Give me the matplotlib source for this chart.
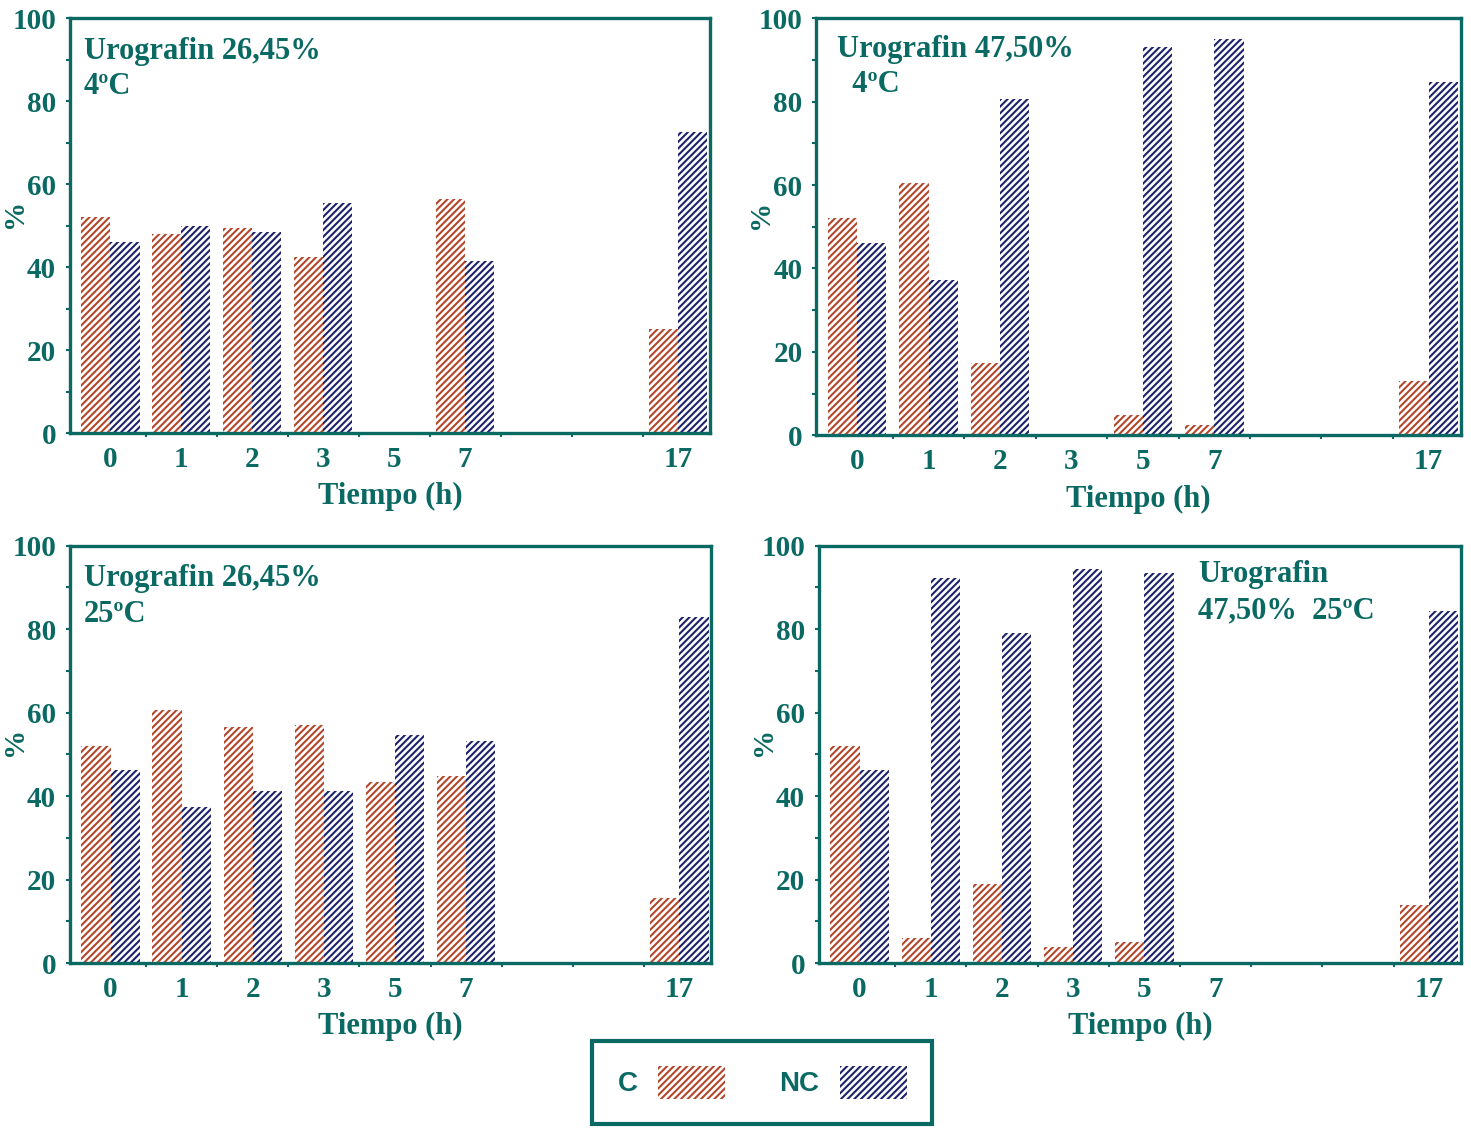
import matplotlib.pyplot as plt
import numpy as np
from matplotlib.patches import Patch
from matplotlib.ticker import FixedLocator

plt.rcParams['font.family'] = ['Liberation Serif', 'DejaVu Serif']
plt.rcParams['font.weight'] = 'bold'
plt.rcParams['hatch.linewidth'] = 1.5

TEAL = '#0a6962'
C_COL = '#b4472b'
NC_COL = '#1d226a'
HATCH = '/////'

# categorias del eje x (17 h queda separado)
tiempos = ['0', '1', '2', '3', '5', '7', '17']
posiciones = [0, 1, 2, 3, 4, 5, 8]

# Urografin 26,45% 4ºC
c_26_4 = [52, 48, 49.5, 42.5, 0, 56.5, 25]
nc_26_4 = [46, 50, 48.5, 55.5, 0, 41.5, 72.5]
# Urografin 47,50% 4ºC
c_47_4 = [52, 60.5, 17.3, 0, 4.8, 2.4, 13]
nc_47_4 = [46, 37.3, 80.5, 0, 93, 95, 84.7]
# Urografin 26,45% 25ºC
c_26_25 = [52, 60.7, 56.6, 57, 43.3, 44.7, 15.7]
nc_26_25 = [46.3, 37.5, 41.3, 41.3, 54.6, 53.1, 82.9]
# Urografin 47,50% 25ºC
c_47_25 = [52, 6, 18.9, 3.8, 5, 0, 14]
nc_47_25 = [46.3, 92.3, 79.1, 94.5, 93.5, 0, 84.4]

paneles = [
    ([0.0476, 0.617, 0.435, 0.367], c_26_4, nc_26_4, 'Urografin 26,45%\n4ºC', (0.022, 0.955)),
    ([0.555, 0.615, 0.438, 0.369], c_47_4, nc_47_4, 'Urografin 47,50%\n  4ºC', (0.032, 0.96)),
    ([0.0476, 0.1485, 0.436, 0.369], c_26_25, nc_26_25, 'Urografin 26,45%\n25ºC', (0.022, 0.955)),
    ([0.5568, 0.1485, 0.4365, 0.369], c_47_25, nc_47_25, 'Urografin\n47,50%  25ºC', (0.59, 0.965)),
]

fig = plt.figure(figsize=(14.71, 11.31), dpi=100)
w = 0.41
x = np.array(posiciones, dtype=float)

for rect, c_vals, nc_vals, titulo, tpos in paneles:
    ax = fig.add_axes(rect)
    ax.bar(x - w / 2, c_vals, width=w, color='white', edgecolor=C_COL,
           hatch=HATCH, linewidth=0)
    ax.bar(x + w / 2, nc_vals, width=w, color='white', edgecolor=NC_COL,
           hatch=HATCH, linewidth=0)
    ax.set_xlim(-0.57, 8.45)
    ax.set_ylim(0, 100)
    ax.set_xticks(posiciones)
    ax.set_xticklabels(tiempos)
    ax.xaxis.set_minor_locator(FixedLocator(np.arange(0.5, 8, 1.0)))
    ax.set_yticks(range(0, 101, 20))
    ax.yaxis.set_minor_locator(FixedLocator(range(10, 100, 20)))
    ax.tick_params(axis='x', which='major', length=0, pad=9,
                   labelsize=21, labelcolor=TEAL)
    ax.tick_params(axis='y', which='major', length=3, width=1.5, color=TEAL,
                   pad=7, labelsize=21, labelcolor=TEAL)
    ax.tick_params(which='minor', length=3, width=1.5, color=TEAL)
    for sp in ax.spines.values():
        sp.set_color(TEAL)
        sp.set_linewidth(2.4)
    ax.set_xlabel('Tiempo (h)', fontsize=22, color=TEAL, fontweight='bold',
                  labelpad=7)
    ax.set_ylabel('%', fontsize=21, color=TEAL, fontweight='bold')
    ax.yaxis.set_label_coords(-0.066, 0.53)
    ax.text(tpos[0], tpos[1], titulo, transform=ax.transAxes, ha='left',
            va='top', fontsize=22, color=TEAL, linespacing=1.3)

handles = [
    Patch(facecolor='white', edgecolor=C_COL, hatch=HATCH, linewidth=0, label='C'),
    Patch(facecolor='white', edgecolor=NC_COL, hatch=HATCH, linewidth=0, label='NC'),
]
leg = fig.legend(handles=handles, ncol=2, loc='center',
                 bbox_to_anchor=(0.518, 0.0433), markerfirst=False,
                 frameon=True, fancybox=False, edgecolor=TEAL, framealpha=1,
                 prop=dict(family='Liberation Sans', weight='bold', size=20),
                 labelcolor=TEAL, handlelength=2.4, handleheight=1.45,
                 columnspacing=1.95, handletextpad=0.75, borderpad=0.9)
leg.get_frame().set_linewidth(3)

fig.savefig('out.png', dpi=100)
